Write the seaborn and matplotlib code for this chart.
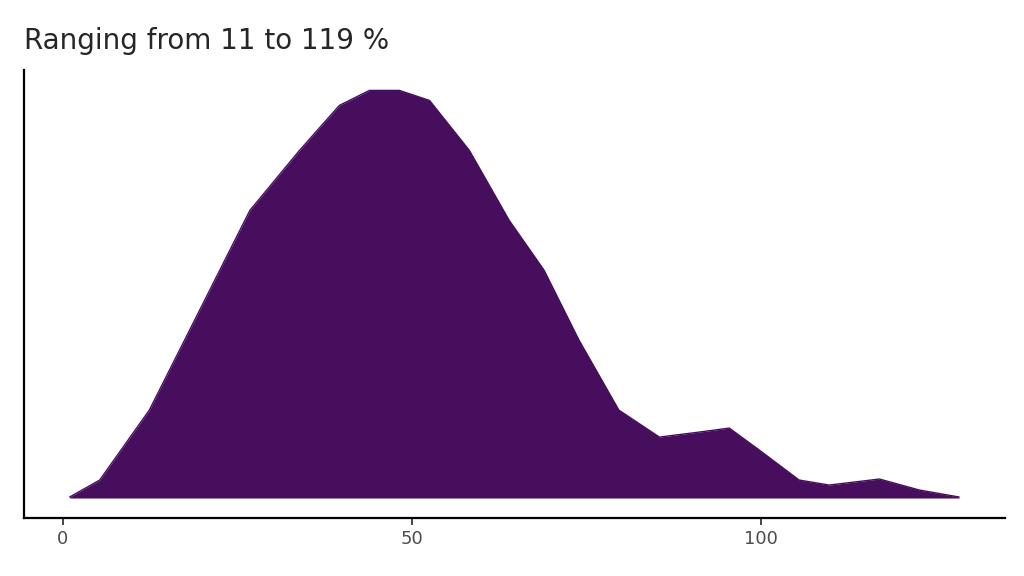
import matplotlib
matplotlib.use("Agg")
import matplotlib.pyplot as plt
import seaborn as sns
import pandas as pd

# density curve (x in %, relative density)
xs = [1, 5.3, 12.4, 19.6, 26.8, 33.9, 39.6, 43.9, 48.2, 52.5, 58.2, 63.9, 68.9,
      73.9, 79.6, 85.4, 91.1, 95.4, 99.7, 105.4, 109.7, 116.9, 122.6, 128.3]
dens = [1, 18, 88, 188, 288, 348, 393, 408, 408, 398, 348, 278, 228,
        158, 88, 61, 66, 70, 48, 18, 13, 19, 8, 1]
df = pd.DataFrame({"x": xs, "d": dens})

sns.set_style("white")
fig = plt.figure(figsize=(10.24, 5.76), dpi=100)
ax = fig.add_axes([0.023, 0.1007, 0.958, 0.777])
sns.lineplot(data=df, x="x", y="d", color="#470E5E", lw=1, ax=ax)
ax.fill_between(df["x"], 0, df["d"], color="#470E5E", lw=0)

ax.set_xlim(-5.6, 134.8)
ax.set_ylim(-20, 428)
ax.set_xticks([0, 50, 100])
ax.set_yticks([])
ax.set_xlabel("")
ax.set_ylabel("")
ax.tick_params(axis="x", labelsize=13, labelcolor="#4d4d4d", length=5, width=1.2, bottom=True)
for s in ["top", "right"]:
    ax.spines[s].set_visible(False)
for s in ["left", "bottom"]:
    ax.spines[s].set_linewidth(1.6)
    ax.spines[s].set_color("black")
fig.text(0.023, 0.915, "Ranging from 11 to 119 %", fontsize=20, ha="left")
fig.savefig("out.png", dpi=100)
